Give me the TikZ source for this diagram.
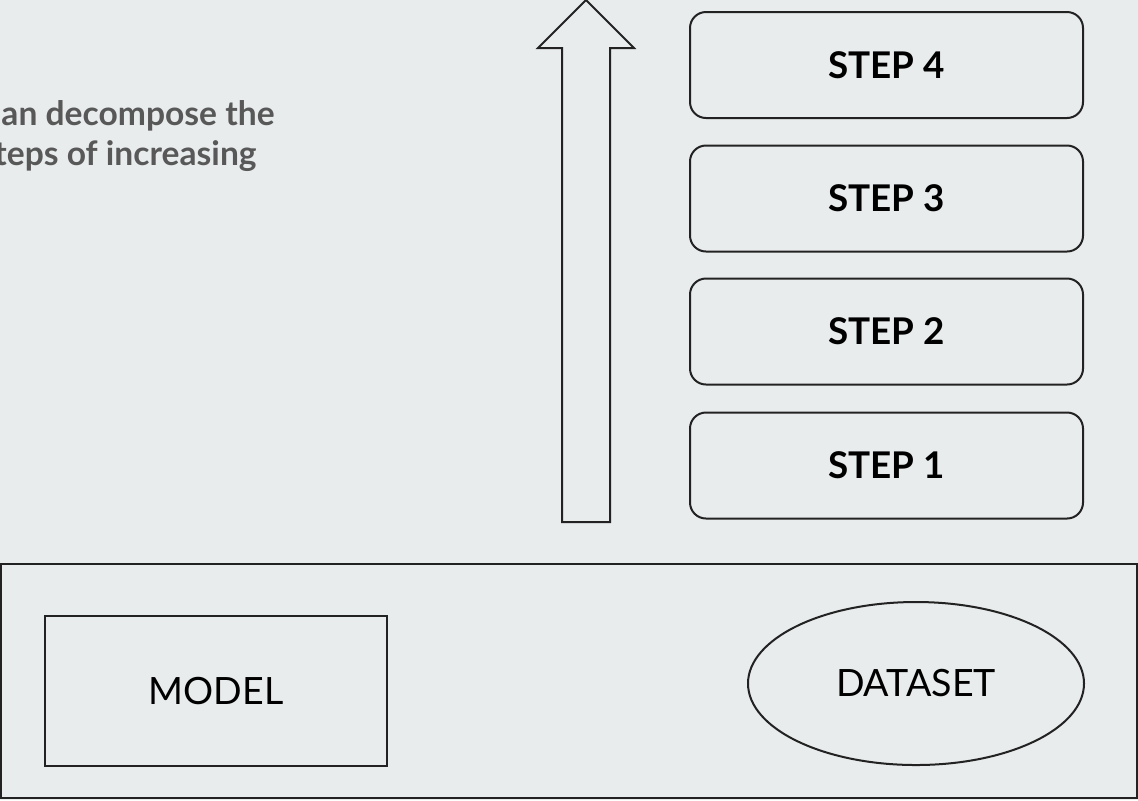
\documentclass[tikz,border=0pt]{standalone}
\usepackage{fontspec}
\setmainfont{Lato}
\usetikzlibrary{shapes.geometric}
\definecolor{bgcol}{RGB}{232,236,237}
\definecolor{inkcol}{RGB}{34,34,34}
\definecolor{notecol}{RGB}{88,88,88}
\tikzset{
  stepbox/.style={draw=inkcol, line width=1pt, rounded corners=8pt,
    minimum width=196.5pt, minimum height=53pt, inner sep=0pt,
    font=\fontsize{18.4}{22}\selectfont\bfseries},
  framebox/.style={draw=inkcol, line width=1pt, inner sep=0pt},
  notetext/.style={text=notecol, inner sep=0pt,
    font=\fontsize{16.8}{20}\selectfont\bfseries},
  plainlabel/.style={font=\fontsize{18.8}{22}\selectfont}
}
\begin{document}
\begin{tikzpicture}[x=0.5pt, y=-0.5pt]
  \fill[bgcol] (0,0) rectangle (1138,800);
  \useasboundingbox (0,0) rectangle (1138,800);
  \clip (0,0) rectangle (1138,800);

  % explanatory note, running off the left edge
  \node[notetext, anchor=base east] (note1) at (275,125) {an decompose the};
  \node[notetext, anchor=base east] (note2) at (257,165) {teps of increasing};

  % upward arrow showing increasing difficulty
  \draw[inkcol, line width=1pt, line join=miter]
    (562,522) -- (562,48) -- (538,48) -- (586,0) -- (634,48)
    -- (610,48) -- (610,522) -- cycle;

  % stacked steps
  \node[stepbox] (s4) at (886.5,65)  {STEP 4};
  \node[stepbox] (s3) at (886.5,198.5) {STEP 3};
  \node[stepbox] (s2) at (886.5,331.5) {STEP 2};
  \node[stepbox] (s1) at (886.5,465.5) {STEP 1};

  % base container with model and dataset
  \node[framebox, minimum width=568pt, minimum height=117pt] (base) at (569,681) {};
  \node[framebox, plainlabel, minimum width=171pt, minimum height=75pt] (model) at (216,691) {MODEL};
  \node[framebox, plainlabel, ellipse, minimum width=168pt, minimum height=81.5pt] (data) at (916,683.5) {DATASET};
\end{tikzpicture}
\end{document}
